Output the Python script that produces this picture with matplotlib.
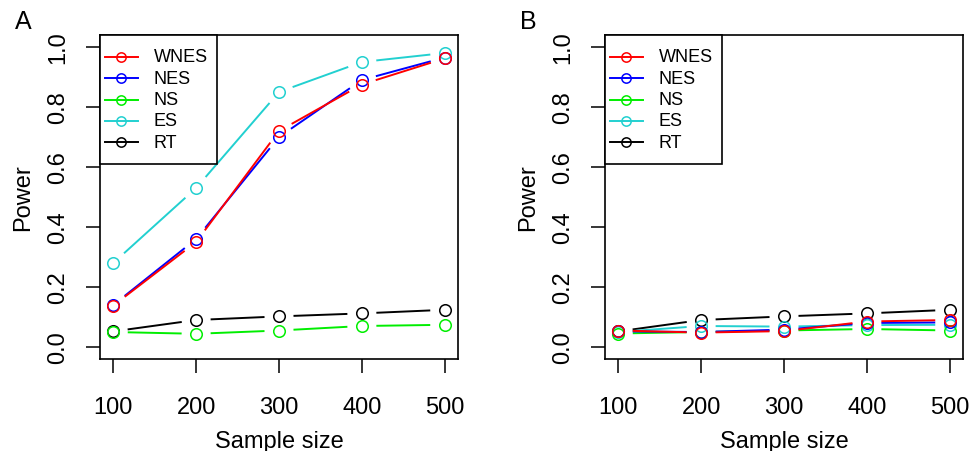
import numpy as np
import matplotlib
matplotlib.use("Agg")
import matplotlib.pyplot as plt
from matplotlib.patches import Rectangle

plt.rcParams['font.family'] = ['Liberation Sans', 'DejaVu Sans']

sample_size = [100, 200, 300, 400, 500]
methods = ["WNES", "NES", "NS", "ES", "RT"]
colors = {"WNES": "#ff0000", "NES": "#0000ff", "NS": "#00ee00", "ES": "#22d0d0", "RT": "#000000"}

# Panel A
a_wnes = [0.138, 0.350, 0.720, 0.875, 0.962]
a_nes = [0.140, 0.360, 0.700, 0.890, 0.965]
a_ns = [0.050, 0.044, 0.055, 0.070, 0.074]
a_es = [0.280, 0.530, 0.850, 0.950, 0.980]
a_rt = [0.052, 0.090, 0.102, 0.112, 0.124]

# Panel B
b_wnes = [0.055, 0.048, 0.053, 0.085, 0.090]
b_nes = [0.052, 0.050, 0.058, 0.080, 0.082]
b_ns = [0.045, 0.050, 0.055, 0.060, 0.055]
b_es = [0.050, 0.070, 0.068, 0.073, 0.074]
b_rt = [0.052, 0.090, 0.102, 0.112, 0.124]

yticks = [0.0, 0.2, 0.4, 0.6, 0.8, 1.0]
ytick_labels = ["0.0", "0.2", "0.4", "0.6", "0.8", "1.0"]
xlabel = "Sample size"
ylabel = "Power"

panels = [
    ("A", {"WNES": a_wnes, "NES": a_nes, "NS": a_ns, "ES": a_es, "RT": a_rt}),
    ("B", {"WNES": b_wnes, "NES": b_nes, "NS": b_ns, "ES": b_es, "RT": b_rt}),
]

W, H = 972, 452
AW, AH = 358, 324
fig = plt.figure(figsize=(W / 100, H / 100), dpi=100)

GAP = 14.5  # px gap between point and line (R type="b")
LW = 1.4
MS = 8.3


def draw_b(ax, x, y, color):
    pts = ax.transData.transform(np.column_stack([x, y]))
    inv = ax.transData.inverted()
    for p0, p1 in zip(pts[:-1], pts[1:]):
        d = p1 - p0
        L = np.hypot(*d)
        if L <= 2 * GAP:
            continue
        u = d / L
        seg = inv.transform(np.array([p0 + u * GAP, p1 - u * GAP]))
        ax.plot(seg[:, 0], seg[:, 1], color=color, lw=LW, solid_capstyle='butt')
    ax.plot(x, y, 'o', mfc='none', mec=color, ms=MS, mew=1.1, ls='none')


def draw_legend(ax):
    # R-style legend box in the top-left corner (pixel offsets from the axes corner)
    def fx(px):
        return px / AW

    def fy(py):
        return 1 - py / AH

    ax.add_patch(Rectangle((0, fy(129)), fx(117), 129 / AH, transform=ax.transAxes,
                           facecolor='white', edgecolor='black', lw=1.2, zorder=5,
                           clip_on=False))
    for i, m in enumerate(methods):
        yy = fy(21.7 + i * 21.4)
        ax.plot([fx(4.5), fx(38)], [yy, yy], color=colors[m], lw=LW,
                transform=ax.transAxes, zorder=6, clip_on=False)
        ax.plot([fx(21.2)], [yy], 'o', mfc='none', mec=colors[m], ms=6.7, mew=1.1,
                transform=ax.transAxes, zorder=6, clip_on=False)
        ax.text(fx(53.5), yy, m, fontsize=13, ha='left', va='center',
                transform=ax.transAxes, zorder=6)


lefts = [100, 605]
for (tag, data), left in zip(panels, lefts):
    ax = fig.add_axes([left / W, (H - 360) / H, AW / W, AH / H])
    ax.set_xlim(84, 516)
    ax.set_ylim(-0.04, 1.04)
    for m in ["RT", "ES", "NS", "NES", "WNES"]:
        draw_b(ax, sample_size, data[m], colors[m])
    ax.set_xticks(sample_size)
    ax.set_xticklabels([str(s) for s in sample_size])
    ax.set_yticks(yticks)
    ax.set_yticklabels(ytick_labels, rotation=90, va='center')
    ax.tick_params(length=10.4, width=1.1, labelsize=17)
    ax.tick_params(axis='x', pad=16.5)
    ax.tick_params(axis='y', pad=11.5)
    for s in ax.spines.values():
        s.set_linewidth(1.2)
    ax.set_xlabel(xlabel, fontsize=17)
    ax.set_ylabel(ylabel, fontsize=17)
    ax.xaxis.set_label_coords(0.5, -0.22)
    ax.yaxis.set_label_coords(-0.185, 0.5)
    draw_legend(ax)
    fig.text((left - 77) / W, 1 - 22 / H, tag, fontsize=18, ha='center', va='center')

fig.savefig("out.png", dpi=100)
